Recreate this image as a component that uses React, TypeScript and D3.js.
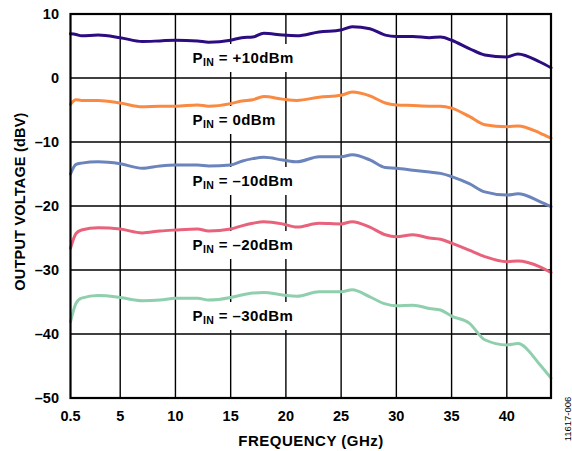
import React from "react";
import * as d3 from "d3";

const frequencies = [0.5, 1, 1.5, 3, 5, 7, 8.6, 10, 12, 13, 15, 16, 17, 18, 19.7, 21, 23, 25, 26, 27.6, 29, 30, 31.5, 33, 34, 35, 36.6, 38, 40, 41, 43, 44];
const p10 = [6.9, 6.8, 6.6, 6.7, 6.3, 5.7, 5.8, 5.9, 5.8, 5.6, 5.9, 6.3, 6.4, 7.0, 6.7, 6.6, 7.2, 7.5, 8.0, 7.7, 6.7, 6.5, 6.5, 6.3, 6.4, 5.9, 4.6, 3.6, 3.3, 3.75, 2.5, 1.6];
const p0 = [-4.1, -3.4, -3.5, -3.5, -3.9, -4.5, -4.4, -4.4, -4.2, -4.4, -4.0, -3.6, -3.4, -2.9, -3.3, -3.5, -3.0, -2.7, -2.2, -2.8, -3.9, -4.2, -4.3, -4.4, -4.4, -4.7, -6.0, -7.3, -7.6, -7.5, -8.6, -9.4];
const pm10 = [-15.0, -13.5, -13.3, -13.1, -13.4, -14.1, -13.75, -13.6, -13.6, -13.75, -13.6, -13.0, -12.6, -12.4, -12.8, -13.1, -12.3, -12.3, -12.0, -12.8, -14.0, -14.1, -14.4, -14.7, -14.9, -15.4, -16.5, -17.8, -18.3, -18.1, -19.3, -20.1];
const pm20 = [-26.6, -24.3, -23.75, -23.4, -23.6, -24.2, -23.9, -23.75, -23.6, -23.9, -23.6, -23.1, -22.7, -22.45, -22.8, -23.3, -22.7, -22.8, -22.45, -23.3, -24.5, -24.8, -24.5, -25.0, -25.2, -25.8, -26.9, -27.9, -28.7, -28.6, -29.5, -30.4];
const pm30 = [-38.1, -35.2, -34.4, -34.0, -34.3, -34.8, -34.7, -34.4, -34.4, -34.7, -34.3, -33.9, -33.6, -33.5, -33.9, -34.1, -33.4, -33.4, -33.1, -34.2, -35.3, -35.6, -35.5, -36.0, -36.25, -37.2, -38.3, -40.9, -41.7, -41.5, -44.8, -46.9];

const seriesLabels = ["+10dBm", "0dBm", "–10dBm", "–20dBm", "–30dBm"];
const seriesColors = ["#2c0c80", "#fa8a42", "#6b84bc", "#e9627b", "#8fcfad"];
const labelBaselines = [63, 125, 186, 250, 321];

const xTicks = [0.5, 5, 10, 15, 20, 25, 30, 35, 40];
const yTicks = [10, 0, -10, -20, -30, -40, -50];

const fmtY = (v: number) => (v < 0 ? "–" + Math.abs(v) : String(v));

export default function App() {
  const W = 572, H = 451;
  const left = 70.5, right = 551, top = 14, bottom = 398;
  const x = d3.scaleLinear().domain([0.5, 44]).range([left, right]);
  const y = d3.scaleLinear().domain([-50, 10]).range([bottom, top]);
  const allSeries = [p10, p0, pm10, pm20, pm30];
  const line = d3
    .line<[number, number]>()
    .x((d) => x(d[0]))
    .y((d) => y(d[1]))
    .curve(d3.curveMonotoneX);
  const font = "'Liberation Sans', Arial, Helvetica, sans-serif";

  return (
    <svg width={W} height={H} style={{ position: "absolute", left: 0, top: 0, background: "#fff" }} fontFamily={font}>
      <rect x={0} y={0} width={W} height={H} fill="#fff" />
      {xTicks.slice(1).map((t) => (
        <line key={"gx" + t} x1={x(t)} x2={x(t)} y1={top} y2={bottom} stroke="#000" strokeWidth={1.4} />
      ))}
      {yTicks.slice(1, -1).map((t) => (
        <line key={"gy" + t} x1={left} x2={right} y1={y(t)} y2={y(t)} stroke="#000" strokeWidth={1.4} />
      ))}
      {seriesLabels.map((l, i) => (
        <rect
          key={"bg" + i}
          x={186}
          y={labelBaselines[i] - 19}
          width={l === "0dBm" ? 90 : 114}
          height={28}
          fill="#fff"
        />
      ))}
      {allSeries.map((s, i) => (
        <path
          key={"s" + i}
          d={line(frequencies.map((f, j) => [f, s[j]] as [number, number])) || ""}
          fill="none"
          stroke={seriesColors[i]}
          strokeWidth={3}
          strokeLinejoin="round"
          strokeLinecap="round"
        />
      ))}
      <rect x={left} y={top} width={right - left} height={bottom - top} fill="none" stroke="#000" strokeWidth={2.2} />
      {seriesLabels.map((l, i) => (
        <text key={"l" + i} x={192.5} y={labelBaselines[i]} fontSize={15} fontWeight="bold" fill="#000" letterSpacing={0.4}>
          P
          <tspan fontSize={10.5} dy={3}>IN</tspan>
          <tspan dy={-3}>{" = " + l}</tspan>
        </text>
      ))}
      {yTicks.map((t) => (
        <text key={"yt" + t} x={59} y={y(t) + 5} textAnchor="end" fontSize={14.5} fontWeight="bold">
          {fmtY(t)}
        </text>
      ))}
      {xTicks.map((t) => (
        <text key={"xt" + t} x={x(t)} y={421} textAnchor="middle" fontSize={14.5} fontWeight="bold">
          {t}
        </text>
      ))}
      <text x={311} y={446} textAnchor="middle" fontSize={15} fontWeight="bold" letterSpacing={0.5}>
        FREQUENCY (GHz)
      </text>
      <text transform={`translate(24.5, 201.5) rotate(-90)`} textAnchor="middle" fontSize={14.5} fontWeight="bold" letterSpacing={0.2}>
        OUTPUT VOLTAGE (dBV)
      </text>
      <text transform={`translate(571, 419) rotate(-90)`} textAnchor="middle" fontSize={9.5}>
        11617-006
      </text>
    </svg>
  );
}
